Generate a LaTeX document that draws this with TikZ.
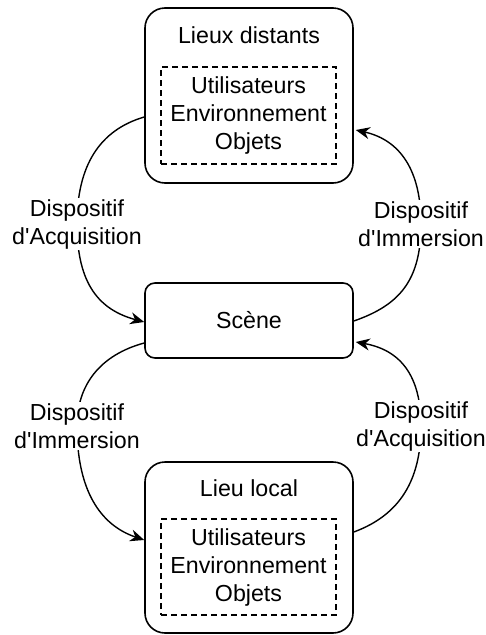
\documentclass[tikz,border=0pt]{standalone}
\usepackage{fontspec}
\newfontfamily\lsans{Liberation Sans}
\usetikzlibrary{arrows.meta}
\begin{document}
\begin{tikzpicture}[x=1pt,y=-1pt,
  every node/.style={font=\lsans\fontsize{23.2}{28}\selectfont},
  place/.style={draw,line width=1.6pt,rounded corners=20pt,minimum width=208pt,inner sep=0pt},
  scenebox/.style={draw,line width=1.6pt,rounded corners=10pt,minimum width=208pt,minimum height=75pt,inner sep=0pt},
  inner/.style={draw,line width=1.4pt,dash pattern=on 6pt off 4pt,minimum width=175pt,minimum height=97pt,inner sep=0pt,align=center},
  lbl/.style={fill=white,align=center,inner sep=1pt},
  arr/.style={line width=1.4pt,-{Stealth[length=14pt,width=12pt]}}]
\useasboundingbox (0,0) rectangle (486,635);
% boxes
\node[place,minimum height=175pt] (top) at (249,95.5) {};
\node (toptitle) at (249,35) {Lieux distants};
\node[inner] (topin) at (248.5,115.5) {Utilisateurs\\Environnement\\Objets};
\node[scenebox] (scene) at (249,320.5) {Scène};
\node[place,minimum height=171pt] (bot) at (249,547.5) {};
\node (bottitle) at (249,488) {Lieu local};
\node[inner,minimum height=96pt] (botin) at (248.5,567) {Utilisateurs\\Environnement\\Objets};
% connectors
\draw[arr] ([yshift=-21.5pt]top.west) .. controls (100,130) and (77,165) .. (77,224)
  node[lbl] (l1) {Dispositif\\d'Acquisition}
  .. controls (77,285) and (100,310) .. ([yshift=-1.5pt]scene.west);
\draw[arr] ([yshift=-0.5pt]scene.east) .. controls (400,305) and (421,280) .. (421,224)
  node[lbl] (l2) {Dispositif\\d'Immersion}
  .. controls (421,170) and (400,140) .. ([xshift=2pt,yshift=-34.5pt]top.east);
\draw[arr] ([yshift=-22.5pt]scene.west) .. controls (100,355) and (77,385) .. (77,426)
  node[lbl] (l3) {Dispositif\\d'Immersion}
  .. controls (77,490) and (100,525) .. ([yshift=7.5pt]bot.west);
\draw[arr] ([yshift=15.5pt]bot.east) .. controls (400,515) and (421,480) .. (421,426)
  node[lbl] (l4) {Dispositif\\d'Acquisition}
  .. controls (421,375) and (400,350) .. ([xshift=2pt,yshift=-21.5pt]scene.east);
\end{tikzpicture}
\end{document}
